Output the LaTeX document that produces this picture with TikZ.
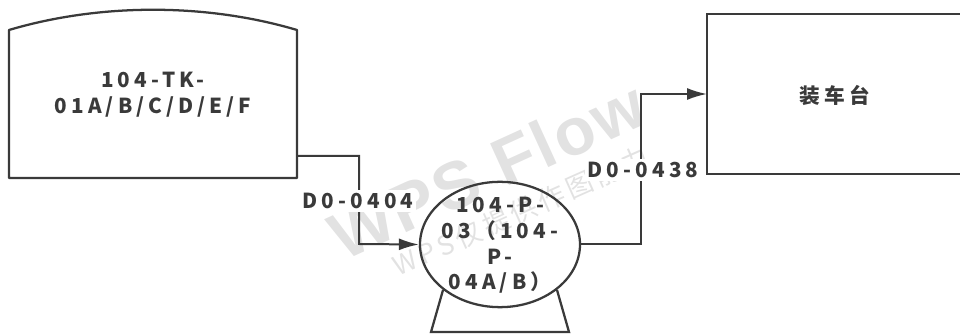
\documentclass[tikz,border=0pt]{standalone}
\usepackage{fontspec}
\setmainfont{Noto Sans CJK SC}[LetterSpace=20]
\newfontfamily\markfont{Liberation Sans}[LetterSpace=4]
\newfontfamily\markfontcjk{Noto Sans CJK SC}[LetterSpace=14]
\usetikzlibrary{shapes.geometric,arrows.meta}
\definecolor{linegray}{HTML}{3A3A3A}
\definecolor{markgray}{HTML}{E2E2E2}
\tikzset{
  pipe/.style={draw=linegray, line width=1.5pt, -{Latex[length=15pt,width=9pt]}},
  outline/.style={draw=linegray, line width=1.7pt},
  lbl/.style={text=linegray, font=\bfseries\fontsize{15.5}{19.3}\selectfont, align=center, inner sep=1pt},
  tag/.style={lbl, fill=white, inner sep=2pt},
}
\begin{document}
\begin{tikzpicture}[x=0.75pt,y=-0.75pt]
\useasboundingbox (0,0) rectangle (960,334);
% watermark
\node [text=markgray, rotate=24.5, font=\markfont\bfseries\fontsize{50}{56}\selectfont] (wmark) at (487,170) {WPS Flow};
\node [text=markgray, rotate=24, font=\markfontcjk\fontsize{20}{24}\selectfont] (wnote) at (521,211) {WPS仅提供作图能力};
% tank
\draw [outline, line join=round] (9,178) -- (9,30) .. controls (100,3) and (206,3) .. (297,30) -- (297,178) -- cycle;
\node [lbl] (tank) at (153,95) {104-TK-\\01A/B/C/D/E/F};
\coordinate (tankout) at (297,156);
% loading rack, runs off the page on the right
\draw [outline] (980,14) -- (707,14) -- (707,174) -- (980,174);
\node [lbl] (rack) at (835,95) {装车台};
\coordinate (rackin) at (707,94);
% pump
\draw [outline] (443,290) -- (431,332) -- (569,332) -- (557,290);
\node [ellipse, outline, minimum width=120pt, minimum height=94pt, inner sep=0pt] (pump) at (500,244.5) {};
\node [lbl, text width=120pt] (pumptxt) at (500,245.5) {104-P-\\03（104-\\P-\\04A/B）};
% lines
\draw [pipe] (tankout) -| (359,244) -- (pump.west);
\draw [pipe] (pump.east) -| (641,94) -- (rackin);
\node [tag] (d404) at (358,201) {D0-0404};
\node [tag] (d438) at (643,170) {D0-0438};
\end{tikzpicture}
\end{document}
